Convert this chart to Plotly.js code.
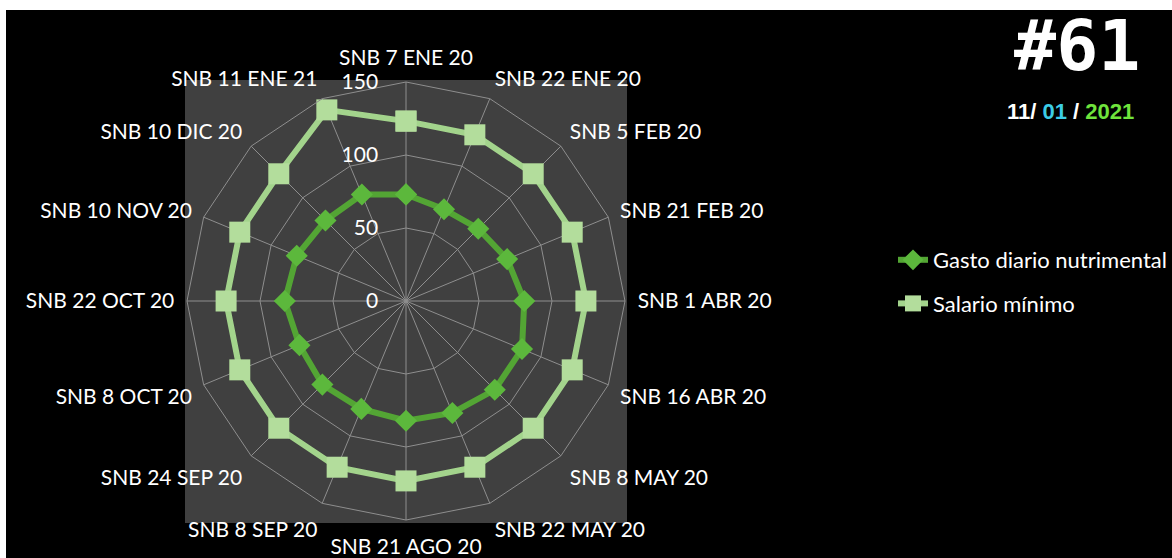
<!DOCTYPE html>
<html>
<head>
<meta charset="utf-8">
<script src="https://cdn.plot.ly/plotly-3.0.1.min.js"></script>
<style>
  html, body { margin: 0; padding: 0; background: #ffffff; }
  #chart { width: 1172px; height: 558px; }
</style>
</head>
<body>
<div id="chart"></div>
<script>
// ---- data ----
const categories = [
  "SNB 7 ENE 20", "SNB 22 ENE 20", "SNB 5 FEB 20", "SNB 21 FEB 20",
  "SNB 1 ABR 20", "SNB 16 ABR 20", "SNB 8 MAY 20", "SNB 22 MAY 20",
  "SNB 21 AGO 20", "SNB 8 SEP 20", "SNB 24 SEP 20", "SNB 8 OCT 20",
  "SNB 22 OCT 20", "SNB 10 NOV 20", "SNB 10 DIC 20", "SNB 11 ENE 21"
];
const gastoNutrimental = [73, 68, 70, 75, 81, 86, 86, 83, 82, 80, 81, 79, 83, 81, 78, 79];
const salarioMinimo = [123.22, 123.22, 123.22, 123.22, 123.22, 123.22, 123.22, 123.22,
                       123.22, 123.22, 123.22, 123.22, 123.22, 123.22, 123.22, 141.70];
const radialTicks = [0, 50, 100, 150];
const seriesNames = ["Gasto diario nutrimental", "Salario mínimo"];

// close the polygons
const closeLoop = arr => arr.concat([arr[0]]);

const W = 1172, H = 558;
const px = x => x / W;
const py = y => 1 - y / H;

const cx = 406, cy = 301, R = 219;

const traces = [
  {
    type: "scatterpolar",
    mode: "lines+markers",
    name: seriesNames[0],
    legendgroup: "g1",
    r: closeLoop(gastoNutrimental),
    theta: closeLoop(categories),
    line: { color: "#53a534", width: 6 },
    marker: { symbol: "diamond", size: 17, color: "#5cb83c" },
    cliponaxis: false
  },
  {
    type: "scatterpolar",
    mode: "lines+markers",
    name: seriesNames[1],
    legendgroup: "g2",
    r: closeLoop(salarioMinimo),
    theta: closeLoop(categories),
    line: { color: "#a3d48c", width: 6 },
    marker: { symbol: "square", size: 21, color: "#b3dd9c" },
    cliponaxis: false
  }
];

const gridCol = "#8e8e8e";
const labFont = { family: "Lato, 'Open Sans', sans-serif", size: 21, color: "#ffffff" };

const layout = {
  width: W, height: H,
  margin: { l: 0, r: 0, t: 0, b: 0 },
  paper_bgcolor: "#ffffff",
  showlegend: true,
  legend: {
    x: px(893), y: py(239), xanchor: "left", yanchor: "top",
    bgcolor: "rgba(0,0,0,0)",
    font: { family: "Lato, 'Open Sans', sans-serif", size: 22, color: "#ffffff" },
    tracegroupgap: 12,
    itemwidth: 30
  },
  polar: {
    domain: { x: [px(cx - R), px(cx + R)], y: [py(cy + R), py(cy - R)] },
    bgcolor: "#404040",
    gridshape: "linear",
    angularaxis: {
      type: "category",
      direction: "clockwise",
      rotation: 90,
      categoryorder: "array",
      categoryarray: categories,
      showgrid: true,
      gridcolor: gridCol,
      gridwidth: 1,
      showline: true,
      linecolor: gridCol,
      linewidth: 1,
      ticks: "outside",
      ticklen: 8,
      tickcolor: "rgba(0,0,0,0)",
      tickfont: labFont
    },
    radialaxis: {
      range: [0, 150],
      tickvals: radialTicks,
      ticktext: radialTicks.map(String),
      angle: 90,
      side: "counterclockwise",
      tickangle: 90,
      showline: false,
      showgrid: true,
      gridcolor: gridCol,
      gridwidth: 1,
      ticks: "outside",
      ticklen: 20,
      tickcolor: "rgba(0,0,0,0)",
      tickfont: { family: "Lato, 'Open Sans', sans-serif", size: 21, color: "#ffffff" }
    }
  },
  shapes: [
    { type: "rect", xref: "paper", yref: "paper", layer: "below",
      x0: px(6), x1: 1, y0: 0, y1: py(10),
      fillcolor: "#000000", line: { width: 0 } },
    { type: "rect", xref: "paper", yref: "paper", layer: "below",
      x0: px(185), x1: px(627), y0: py(523), y1: py(80),
      fillcolor: "#404040", line: { width: 0 } }
  ],
  annotations: [
    { xref: "paper", yref: "paper", x: px(1142), y: py(46), xanchor: "right", yanchor: "middle",
      showarrow: false, text: "<b>#61</b>",
      font: { family: "'DejaVu Sans Mono', monospace", size: 70, color: "#ffffff" } },
    { xref: "paper", yref: "paper", x: px(1136), y: py(111), xanchor: "right", yanchor: "middle",
      showarrow: false,
      text: "<b>11/ <span style='color:#3ccde6'>01</span> / <span style='color:#6fe33c'>2021</span></b>",
      font: { family: "'Liberation Sans', Arial, sans-serif", size: 22, color: "#ffffff" } }
  ]
};

Plotly.newPlot("chart", traces, layout, { displayModeBar: false, staticPlot: true });
</script>
</body>
</html>
